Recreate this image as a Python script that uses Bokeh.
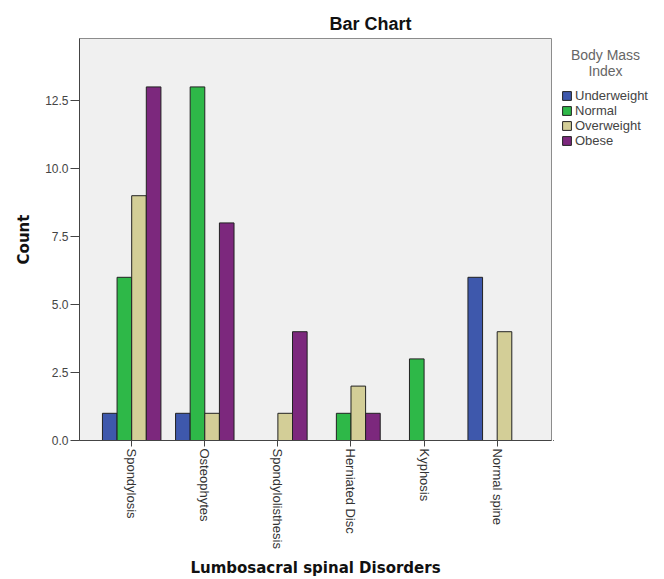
import math
from bokeh.plotting import figure
from bokeh.layouts import row
from bokeh.models import ColumnDataSource, Range1d, FixedTicker, PrintfTickFormatter, Legend, LegendItem, Label
from bokeh.embed import file_html
from bokeh.resources import INLINE

categories = ["Spondylosis", "Osteophytes", "Spondylolisthesis", "Herniated Disc", "Kyphosis", "Normal spine"]
series_names = ["Underweight", "Normal", "Overweight", "Obese"]
underweight = [1, 1, 0, 0, 0, 6]
normal = [6, 13, 0, 1, 3, 0]
overweight = [9, 1, 1, 2, 0, 4]
obese = [13, 8, 4, 1, 0, 0]
y_ticks = [0, 2.5, 5.0, 7.5, 10.0, 12.5]
legend_title_lines = ["Body Mass", "Index"]

colors = ["#3E58AC", "#2EB848", "#D3CE97", "#7C287D"]
offsets = [-0.3, -0.1, 0.1, 0.3]
FONT = "Liberation Sans"
BOLD_FONT = "DejaVu Sans"
Y_MAX = 14.78

p = figure(width=553, height=579, output_backend="svg", toolbar_location=None,
           x_range=Range1d(-0.714, 5.743), y_range=Range1d(0, Y_MAX),
           min_border_left=79, min_border_right=2, min_border_top=38, min_border_bottom=139)

p.background_fill_color = "#F0F0F0"
p.border_fill_color = "white"
p.outline_line_color = "#8C8C8C"
p.xgrid.visible = False
p.ygrid.visible = False

for name, vals, col, off in zip(series_names, [underweight, normal, overweight, obese], colors, offsets):
    xs = [i + off for i, v in enumerate(vals) if v > 0]
    ys = [v for v in vals if v > 0]
    src = ColumnDataSource(dict(x=xs, top=ys))
    p.vbar(x="x", top="top", width=0.2, bottom=0, source=src,
           fill_color=col, line_color="#222222", line_width=1)

# Title
p.title.text = "Bar Chart"
p.title.align = "left"
p.title.offset = 250
p.title.text_font = FONT
p.title.text_font_size = "18px"
p.title.text_font_style = "bold"
p.title.text_color = "#111111"

# Y axis
p.yaxis.ticker = FixedTicker(ticks=y_ticks)
p.yaxis.formatter = PrintfTickFormatter(format="%.1f")
p.yaxis.axis_label = "Count"
p.yaxis.axis_label_text_font = BOLD_FONT
p.yaxis.axis_label_text_font_size = "15px"
p.yaxis.axis_label_text_font_style = "bold"
p.yaxis.axis_label_text_color = "#111111"
p.yaxis.axis_label_standoff = 9
p.yaxis.major_label_text_font = FONT
p.yaxis.major_label_text_font_size = "12px"
p.yaxis.major_label_text_color = "#444444"
p.yaxis.major_label_standoff = 2
p.yaxis.minor_tick_line_color = None
p.yaxis.major_tick_out = 9
p.yaxis.major_tick_in = 0
p.yaxis.axis_line_color = "#444444"
p.yaxis.major_tick_line_color = "#444444"

# X axis
p.xaxis.ticker = FixedTicker(ticks=list(range(len(categories))))
p.xaxis.major_label_overrides = {i: c for i, c in enumerate(categories)}
p.xaxis.major_label_orientation = -math.pi / 2
p.xaxis.major_label_text_font = FONT
p.xaxis.major_label_text_font_size = "13px"
p.xaxis.major_label_text_color = "#333333"
p.xaxis.major_label_standoff = 2
p.xaxis.axis_label = "Lumbosacral spinal Disorders"
p.xaxis.axis_label_text_font = BOLD_FONT
p.xaxis.axis_label_text_font_size = "15px"
p.xaxis.axis_label_text_font_style = "bold"
p.xaxis.axis_label_text_color = "#111111"
p.xaxis.axis_label_standoff = 7
p.xaxis.minor_tick_line_color = None
p.xaxis.major_tick_out = 6
p.xaxis.major_tick_in = 0
p.xaxis.axis_line_color = "#444444"
p.xaxis.major_tick_line_color = "#444444"

# Legend panel (separate figure to the right of the plot, same vertical frame)
lg = figure(width=111, height=579, output_backend="svg", toolbar_location=None,
            x_range=Range1d(0, 111), y_range=Range1d(0, Y_MAX),
            x_axis_location=None, y_axis_location=None,
            min_border_left=0, min_border_right=0, min_border_top=38, min_border_bottom=139)
lg.outline_line_color = None
lg.background_fill_color = "white"
lg.border_fill_color = "white"
lg.xgrid.visible = False
lg.ygrid.visible = False

items = []
for name, col in zip(series_names, colors):
    # legend handle only: one point placed outside the panel's visible range
    handle = ColumnDataSource(dict(x=[-10], top=[0]))
    r = lg.vbar(x="x", top="top", width=1, source=handle,
                fill_color=col, line_color="#222222", line_width=1)
    items.append(LegendItem(label=name, renderers=[r]))

legend = Legend(items=items, location=(8, 292))
legend.label_text_font = FONT
legend.label_text_font_size = "13px"
legend.label_text_color = "#444444"
legend.glyph_width = 11
legend.glyph_height = 11
legend.label_height = 11
legend.label_standoff = 3
legend.spacing = 0
legend.padding = 0
legend.margin = 0
legend.border_line_color = None
legend.background_fill_alpha = 0
lg.add_layout(legend, "center")

for txt, yy in zip(legend_title_lines, [14.19, 13.60]):
    lg.add_layout(Label(x=52, y=yy, text=txt, text_align="center", text_baseline="middle",
                        text_font=FONT, text_font_size="14px", text_color="#666666"))

layout = row(p, lg)
open("out.html", "w").write(file_html(layout, INLINE))
